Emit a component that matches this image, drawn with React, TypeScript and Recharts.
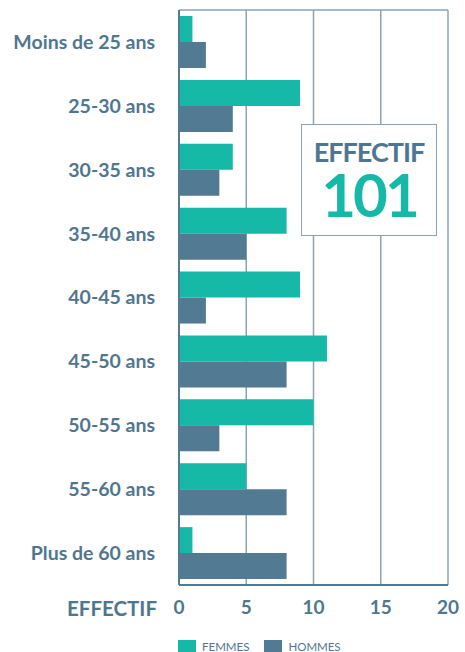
import React from "react";
import { BarChart, Bar, XAxis, YAxis, CartesianGrid, Legend, Label } from "recharts";

const categories = ["Moins de 25 ans", "25-30 ans", "30-35 ans", "35-40 ans", "40-45 ans", "45-50 ans", "50-55 ans", "55-60 ans", "Plus de 60 ans"];
const femmes = [1, 9, 4, 8, 9, 11, 10, 5, 1];
const hommes = [2, 4, 3, 5, 2, 8, 3, 8, 8];
const xTicks = [0, 5, 10, 15, 20];
const total = 101;

const data = categories.map((c, i) => ({ name: c, femmes: femmes[i], hommes: hommes[i] }));

const TEAL = "#16b9a7";
const BLUE = "#527a92";
const TEXT = "#4f7690";
const GRID = "#8aa3b5";
const FONT = "Lato, 'Open Sans', sans-serif";

const LegendContent = () => (
  <div style={{ display: "flex", alignItems: "center", paddingLeft: 178, paddingTop: 8, fontFamily: FONT, fontSize: 11.5, color: TEXT, height: 19, boxSizing: "border-box" }}>
    <span style={{ width: 18, height: 13, background: TEAL, display: "inline-block", marginRight: 6 }} />
    <span style={{ marginRight: 15 }}>FEMMES</span>
    <span style={{ width: 18, height: 13, background: BLUE, display: "inline-block", marginRight: 6 }} />
    <span>HOMMES</span>
  </div>
);

export default function App() {
  return (
    <div style={{ position: "absolute", left: 0, top: 0, width: 465, height: 652, background: "#fff", overflow: "hidden" }}>
      <BarChart
        width={465}
        height={652}
        data={data}
        layout="vertical"
        margin={{ top: 10, right: 17, left: 0, bottom: 0 }}
        barSize={26}
        barGap={0}
      >
        <CartesianGrid
          stroke={GRID}
          strokeWidth={1.5}
          horizontalCoordinatesGenerator={({ offset }: any) => [offset.top, offset.top + offset.height]}
        />
        <XAxis
          type="number"
          domain={[0, 20]}
          ticks={xTicks}
          height={48}
          axisLine={{ stroke: BLUE, strokeWidth: 2 }}
          tickLine={false}
          tickSize={6}
          tickMargin={10}
          tick={{ fill: TEXT, fontSize: 19, fontWeight: 700, fontFamily: FONT }}
        >
          <Label value="EFFECTIF" position="left" offset={22} fill={TEXT} fontSize={20.5} fontWeight={700} fontFamily={FONT} />
        </XAxis>
        <YAxis
          type="category"
          dataKey="name"
          width={179}
          axisLine={{ stroke: BLUE, strokeWidth: 2 }}
          tickLine={false}
          tickSize={6}
          tickMargin={18}
          tick={{ fill: TEXT, fontSize: 19.5, fontWeight: 700, fontFamily: FONT }}
        />
        <Legend verticalAlign="bottom" height={19} wrapperStyle={{ left: 0, width: 465 }} content={<LegendContent />} />
        <Bar dataKey="femmes" name="FEMMES" fill={TEAL} isAnimationActive={false} />
        <Bar dataKey="hommes" name="HOMMES" fill={BLUE} isAnimationActive={false} />
      </BarChart>
      <div
        style={{
          position: "absolute",
          left: 301,
          top: 124,
          width: 134,
          height: 110,
          border: `1.5px solid ${GRID}`,
          background: "#fff",
          fontFamily: FONT,
          fontWeight: 700,
          textAlign: "center",
        }}
      >
        <div style={{ color: TEXT, fontSize: 27, letterSpacing: -1, marginTop: 14, lineHeight: "26px" }}>EFFECTIF</div>
        <div style={{ color: TEAL, fontSize: 60, letterSpacing: -3, lineHeight: "58px" }}>{total}</div>
      </div>
    </div>
  );
}
